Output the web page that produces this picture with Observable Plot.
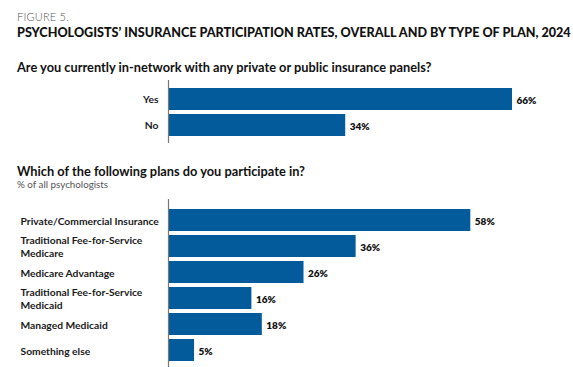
<!DOCTYPE html>
<html>
<head>
<meta charset="utf-8">
<script src="https://cdn.jsdelivr.net/npm/d3@7"></script>
<script src="https://cdn.jsdelivr.net/npm/@observablehq/plot@0.6"></script>
<style>
  html, body { margin: 0; padding: 0; background: #fff; }
  #wrap { position: relative; width: 573px; height: 367px; overflow: hidden; font-family: Lato, "Open Sans", sans-serif; color: #1a1a1a; }
  .t { position: absolute; white-space: nowrap; }
  #fig { left: 17px; top: 10px; font-size: 11px; color: #555; font-weight: 300; letter-spacing: 0.2px; }
  #title { left: 17px; top: 25px; font-size: 12.6px; font-weight: 900; color: #111; }
  #q1 { left: 17px; top: 59px; font-size: 12.8px; font-weight: 700; color: #111; }
  #q2 { left: 17px; top: 163px; font-size: 12.8px; font-weight: 700; color: #111; }
  #sub { left: 17px; top: 178px; font-size: 9.8px; color: #555; }
  #p1 { position: absolute; left: 0; top: 78px; }
  #p2 { position: absolute; left: 0; top: 195px; }
</style>
</head>
<body>
<div id="wrap">
  <div class="t" id="fig">FIGURE 5.</div>
  <div class="t" id="title">PSYCHOLOGISTS’ INSURANCE PARTICIPATION RATES, OVERALL AND BY TYPE OF PLAN, 2024</div>
  <div class="t" id="q1">Are you currently in-network with any private or public insurance panels?</div>
  <div class="t" id="q2">Which of the following plans do you participate in?</div>
  <div class="t" id="sub">% of all psychologists</div>
  <div id="p1"></div>
  <div id="p2"></div>
</div>
<script>
const answers = ["Yes", "No"];
const answerValues = [66, 34];

const plans = ["Private/Commercial Insurance", "Traditional Fee-for-Service Medicare", "Medicare Advantage", "Traditional Fee-for-Service Medicaid", "Managed Medicaid", "Something else"];
const planLabels = ["Private/Commercial Insurance", "Traditional Fee-for-Service\nMedicare", "Medicare Advantage", "Traditional Fee-for-Service\nMedicaid", "Managed Medicaid", "Something else"];
const planValues = [58, 36, 26, 16, 18, 5];

const BLUE = "#035b9b";
const FONT = "Lato, 'Open Sans', sans-serif";

const d1 = answers.map((a, i) => ({cat: a, value: answerValues[i]}));
const d2 = plans.map((p, i) => ({cat: p, label: planLabels[i], value: planValues[i]}));

const common = {
  width: 573,
  marginLeft: 168,
  marginRight: 61,
  style: {fontFamily: FONT, background: "transparent", overflow: "visible"}
};

const plot1 = Plot.plot({
  ...common,
  height: 67,
  marginTop: 2,
  marginBottom: 2,
  x: {domain: [0, 66], axis: null},
  y: {domain: answers, range: [5.3, 62.4], padding: 0.14, label: null},
  marks: [
    Plot.barX(d1, {x: "value", y: "cat", fill: BLUE}),
    Plot.ruleX([0], {stroke: "#777", strokeWidth: 1.2}),
    Plot.axisY({tickSize: 0, tickPadding: 10, fontSize: 10.3, fontWeight: 700, fill: "#1a1a1a", label: null}),
    Plot.text(d1, {x: "value", y: "cat", text: d => d.value + "%", textAnchor: "start", dx: 4, dy: 1, fontSize: 10, fontWeight: 800, fill: "#111"})
  ]
});
document.getElementById("p1").appendChild(plot1);

const labelMap = new Map(d2.map(d => [d.cat, d.label]));
const plot2 = Plot.plot({
  ...common,
  height: 172,
  marginTop: 4,
  marginBottom: 0,
  x: {domain: [0, 66], axis: null},
  y: {domain: plans, range: [9, 171.7], padding: 0.14, label: null},
  marks: [
    Plot.barX(d2, {x: "value", y: "cat", fill: BLUE}),
    Plot.ruleX([0], {stroke: "#777", strokeWidth: 1.2}),
    Plot.axisY({tickSize: 0, tickPadding: 0, dx: -148, textAnchor: "start", lineHeight: 1.3, fontSize: 10.3, fontWeight: 700, fill: "#1a1a1a", label: null, tickFormat: d => labelMap.get(d)}),
    Plot.text(d2, {x: "value", y: "cat", text: d => d.value + "%", textAnchor: "start", dx: 4, dy: 1, fontSize: 10, fontWeight: 800, fill: "#111"})
  ]
});
document.getElementById("p2").appendChild(plot2);
</script>
</body>
</html>
